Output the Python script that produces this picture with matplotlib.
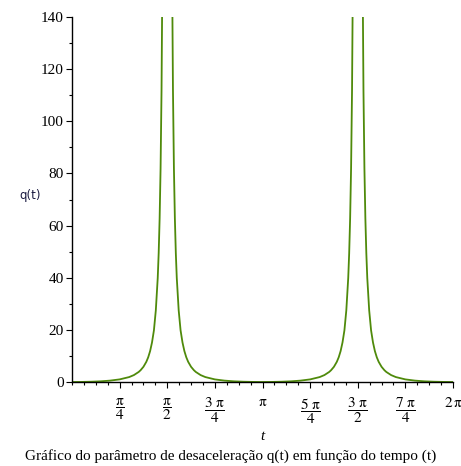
import numpy as np
import matplotlib
matplotlib.use("Agg")
import matplotlib.pyplot as plt
from matplotlib.ticker import MultipleLocator, FixedLocator

# t values in units of pi, and q(t)
t_over_pi = [0.0, 0.05, 0.1, 0.15, 0.2, 0.25, 0.3, 0.325, 0.35, 0.36, 0.375, 0.39, 0.4, 0.41, 0.42, 0.43,
             0.44, 0.45, 0.455, 0.46, 0.465, 0.47, 0.475,
             0.525, 0.53, 0.535, 0.54, 0.545, 0.55, 0.56, 0.57, 0.58, 0.59, 0.6, 0.61, 0.625, 0.64, 0.65,
             0.675, 0.7, 0.75, 0.8, 0.85, 0.9, 0.95, 1.0,
             1.05, 1.1, 1.15, 1.2, 1.25, 1.3, 1.325, 1.35, 1.36, 1.375, 1.39, 1.4, 1.41, 1.42, 1.43,
             1.44, 1.45, 1.455, 1.46, 1.465, 1.47, 1.475,
             1.525, 1.53, 1.535, 1.54, 1.545, 1.55, 1.56, 1.57, 1.58, 1.59, 1.6, 1.61, 1.625, 1.64, 1.65,
             1.675, 1.7, 1.75, 1.8, 1.85, 1.9, 1.95, 2.0]
q_vals = [0.0, 0.03, 0.11, 0.26, 0.53, 1.0, 1.89, 2.66, 3.85, 4.52, 5.83, 7.72, 9.47, 11.85, 15.17, 19.8,
          27.5, 39.9, 49.4, 62.7, 82.0, 111.9, 161.4,
          161.4, 111.9, 82.0, 62.7, 49.4, 39.9, 27.5, 19.8, 15.17, 11.85, 9.47, 7.72, 5.83, 4.52, 3.85,
          2.66, 1.89, 1.0, 0.53, 0.26, 0.11, 0.03, 0.0,
          0.03, 0.11, 0.26, 0.53, 1.0, 1.89, 2.66, 3.85, 4.52, 5.83, 7.72, 9.47, 11.85, 15.17, 19.8,
          27.5, 39.9, 49.4, 62.7, 82.0, 111.9, 161.4,
          161.4, 111.9, 82.0, 62.7, 49.4, 39.9, 27.5, 19.8, 15.17, 11.85, 9.47, 7.72, 5.83, 4.52, 3.85,
          2.66, 1.89, 1.0, 0.53, 0.26, 0.11, 0.03, 0.0]

x_tick_pos = [0.25, 0.5, 0.75, 1.0, 1.25, 1.5, 1.75, 2.0]
x_tick_labels = [r'$\dfrac{\mathrm{π}}{4}$', r'$\dfrac{\mathrm{π}}{2}$', r'$\dfrac{3\ \mathrm{π}}{4}$',
                 r'$\mathrm{π}$', r'$\dfrac{5\ \mathrm{π}}{4}$', r'$\dfrac{3\ \mathrm{π}}{2}$',
                 r'$\dfrac{7\ \mathrm{π}}{4}$', r'$2\,\mathrm{π}$']
y_ticks = [0, 20, 40, 60, 80, 100, 120, 140]

plt.rcParams['mathtext.fontset'] = 'stix'
plt.rcParams['font.family'] = 'Liberation Serif'

fig = plt.figure(figsize=(4.61, 4.66), dpi=100)
ax = fig.add_axes([72/461, 1-382/466, (453-72)/461, (382-17)/466])

t = np.array(t_over_pi) * np.pi
ax.plot(t, q_vals, color='#4f8a0b', linewidth=1.3, clip_on=True)

ax.set_xlim(0, 2*np.pi)
ax.set_ylim(0, 140)
for s in ['top', 'right']:
    ax.spines[s].set_visible(False)
for s in ['left', 'bottom']:
    ax.spines[s].set_linewidth(1.0)
    ax.spines[s].set_color('black')

ax.xaxis.set_major_locator(FixedLocator(np.array(x_tick_pos) * np.pi))
ax.xaxis.set_minor_locator(MultipleLocator(np.pi/16))
ax.set_xticklabels(x_tick_labels, fontsize=11)
ax.set_yticks(y_ticks)
ax.yaxis.set_minor_locator(MultipleLocator(10))
ax.tick_params(axis='both', which='major', direction='out', length=4, width=0.8)
ax.tick_params(axis='both', which='minor', direction='out', length=2.5, width=0.8)
ax.tick_params(axis='x', which='major', pad=6)
ax.tick_params(axis='y', labelsize=11, pad=2)

ax.set_xlabel('t', fontstyle='italic', fontsize=11, labelpad=3)
fig.text(30/461, 1-195/466, 'q(t)', family='DejaVu Sans', fontsize=8.5, ha='center', va='center',
         color='#1a1a40')
fig.text(231/461, 1-456/466, 'Gráfico do parâmetro de desaceleração q(t) em função do tempo (t)',
         fontsize=11, ha='center', va='center')

fig.savefig('out.png', dpi=100)
